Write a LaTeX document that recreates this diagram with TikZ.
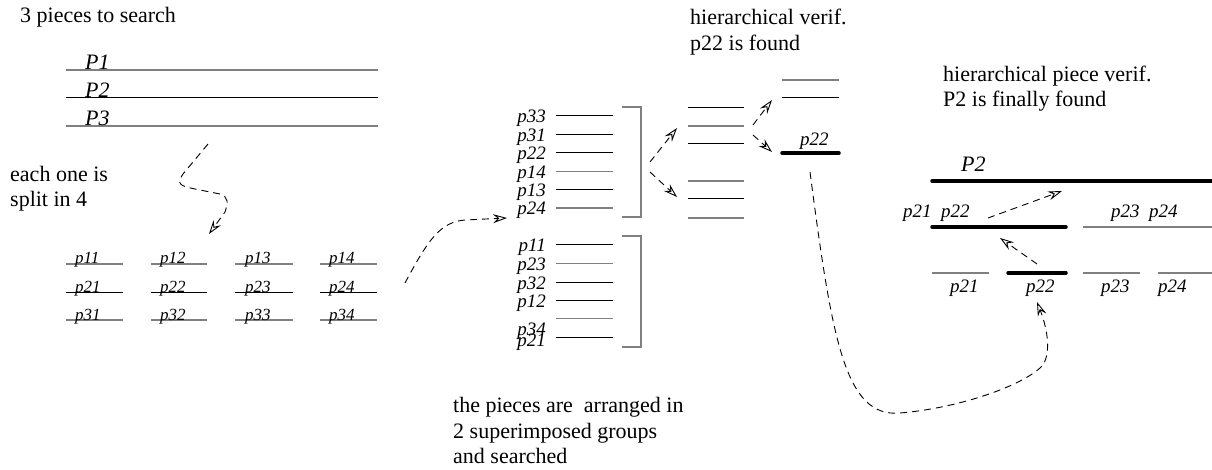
\documentclass[tikz,border=0pt]{standalone}
\usepackage{fontspec}
\setmainfont{Liberation Serif}
\usetikzlibrary{arrows.meta}
\tikzset{
  txt/.style={font=\fontsize{22}{25}\selectfont, anchor=base west, inner sep=0pt},
  lbl/.style={font=\fontsize{19}{22}\selectfont\itshape, inner sep=0pt, anchor=base west},
  lble/.style={font=\fontsize{19}{22}\selectfont\itshape, inner sep=0pt, anchor=base east},
  slbl/.style={font=\fontsize{17}{20}\selectfont\itshape, inner sep=0pt, anchor=base west},
  bigl/.style={font=\fontsize{22}{25}\selectfont\itshape, inner sep=0pt, anchor=base west},
  bl/.style={line width=1pt, black},
  gl/.style={line width=1.2pt, gray},
  tl/.style={line width=3.5pt, black, line cap=round},
  conn/.style={dash pattern=on 7pt off 5pt, line width=0.9pt,
    -{Stealth[open,length=14pt,width=9pt,inset=5pt]}},
}
\begin{document}
\begin{tikzpicture}[x=1pt,y=-1pt]
\useasboundingbox (0,0) rectangle (1212,470);

% ---------- top left
\node[txt] (t1) at (20,23) {3 pieces to search};
\draw[gl] (66,70) -- (378,70);
\draw[bl] (66,98) -- (378,98);
\draw[gl] (66,126) -- (378,126);
\node[bigl] (P1) at (85,70) {P1};
\node[bigl] (P2a) at (85,98) {P2};
\node[bigl] (P3) at (85,126) {P3};

\node[txt] (t2a) at (10,182) {each one is};
\node[txt] (t2b) at (10,207) {split in 4};

% squiggle arrow
\coordinate (sq1) at (208,144);
\coordinate (sq2) at (209,234);
\draw[conn] (sq1) -- (183,174) .. controls (176,184) and (180,186) .. (195,189)
  -- (220,194) .. controls (229,197) and (228,203) .. (225,212) -- (sq2);

% ---------- grid
\foreach \y/\c/\r in {264/gl/1,292/bl/2,320/gl/3}{
  \draw[\c] (66,\y) -- (123,\y);
  \draw[\c] (151,\y) -- (207,\y);
  \draw[\c] (235,\y) -- (293,\y);
  \draw[\c] (320,\y) -- (377,\y);
  \node[slbl] (g\r1) at (75,\y) {p\r1};
  \node[slbl] (g\r2) at (160,\y) {p\r2};
  \node[slbl] (g\r3) at (245,\y) {p\r3};
  \node[slbl] (g\r4) at (329,\y) {p\r4};
}

% arrow grid -> groups
\coordinate (ga1) at (405,283);
\coordinate (ga2) at (507,218);
\draw[conn] (ga1) .. controls (428,240) and (440,222) .. (465,220) -- (ga2);

% ---------- group 1
\foreach \y/\c/\t in {116/bl/p33,134.5/bl/p31,153/bl/p22,171.5/gl/p14,190/bl/p13,208/gl/p24}{
  \draw[\c] (556,\y) -- (613,\y);
  \node[lble] (m\t) at (546,\y+7) {\t};
}
\draw[gl] (622,107) -- (641,107) -- (641,217) -- (622,217);

% ---------- group 2
\foreach \y/\c/\t in {245/bl/p11,263.5/gl/p23,282/bl/p32,300/bl/p12}{
  \draw[\c] (556,\y) -- (613,\y);
  \node[lble] (n\t) at (546,\y+7) {\t};
}
\draw[gl] (556,318.5) -- (613,318.5);
\draw[bl] (556,337) -- (613,337);
\node[lble] (np34) at (546,335) {p34};
\node[lble] (np21) at (546,346) {p21};
\draw[gl] (622,236) -- (641,236) -- (641,347) -- (622,347);

% branching arrows
\coordinate (ba1) at (650,162);
\coordinate (ba2) at (677,128);
\coordinate (bb1) at (650,172);
\coordinate (bb2) at (677,197);
\draw[conn] (ba1) -- (ba2);
\draw[conn] (bb1) -- (bb2);

% column of six
\foreach \y/\c in {108/bl,126/gl,144/bl,181/gl,199/bl,218/gl}{
  \draw[\c] (688,\y) -- (744,\y);
}

\coordinate (ca1) at (753,125);
\coordinate (ca2) at (772,100);
\coordinate (cb1) at (753,135);
\coordinate (cb2) at (772,152);
\draw[conn] (ca1) -- (ca2);
\draw[conn] (cb1) -- (cb2);

% right column
\draw[gl] (782,80) -- (839,80);
\draw[bl] (782,98) -- (839,98);
\draw[tl] (782,153) -- (839,153);
\node[lbl] (rp22) at (800,146) {p22};

\node[txt] (t3a) at (690,25) {hierarchical verif.};
\node[txt] (t3b) at (690,51) {p22 is found};

% ---------- far right
\node[txt] (t4a) at (943,82) {hierarchical piece verif.};
\node[txt] (t4b) at (943,107) {P2 is finally found};

\draw[tl] (932,181) -- (1215,181);
\node[bigl] (fP2) at (961,172) {P2};

\draw[tl] (932,227) -- (1066,227);
\draw[gl] (1083,227) -- (1212,227);
\node[lbl] (f21) at (903,218) {p21};
\node[lbl] (f22) at (941,218) {p22};
\node[lbl] (f23) at (1111,218) {p23};
\node[lbl] (f24) at (1149,218) {p24};

\draw[gl] (932,273) -- (989,273);
\draw[tl] (1008,273) -- (1066,273);
\draw[gl] (1083,273) -- (1140,273);
\draw[gl] (1158,273) -- (1212,273);
\node[lbl] (b21) at (950,292) {p21};
\node[lbl] (b22) at (1026,292) {p22};
\node[lbl] (b23) at (1101,292) {p23};
\node[lbl] (b24) at (1158,292) {p24};

\coordinate (ea1) at (988,218);
\coordinate (ea2) at (1062,191);
\coordinate (fa1) at (1037,264);
\coordinate (fa2) at (1000,238);
\draw[conn] (ea1) -- (ea2);
\draw[conn] (fa1) -- (fa2);

% big curve
\coordinate (bc1) at (810,172);
\coordinate (bc2) at (1037,302);
\draw[conn] (bc1) .. controls (832,340) and (845,418) .. (900,413)
  .. controls (960,408) and (1025,385) .. (1043,365)
  .. controls (1052,350) and (1046,325) .. (bc2);

% bottom text
\node[txt] (t5a) at (453,412) {the pieces are\ \ arranged in};
\node[txt] (t5b) at (453,438) {2 superimposed groups};
\node[txt] (t5c) at (453,463) {and searched};
\end{tikzpicture}
\end{document}
